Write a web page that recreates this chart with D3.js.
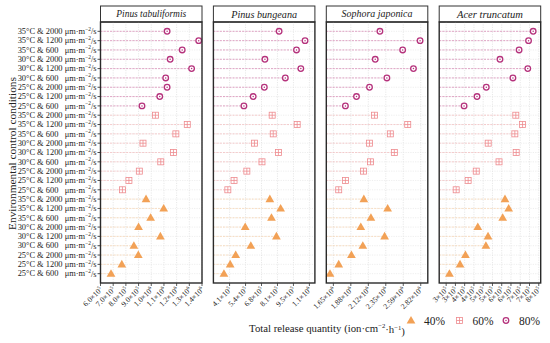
<!DOCTYPE html>
<html><head><meta charset="utf-8">
<script src="https://cdn.jsdelivr.net/npm/d3@7"></script>
<style>
html,body{margin:0;padding:0;background:#fff;}
svg{display:block;}
svg text{font-family:"Liberation Serif","Times New Roman","DejaVu Serif",serif;}
</style></head>
<body><svg id="chart" width="550" height="343" font-family="Liberation Serif, Times New Roman, serif"></svg>
<script>
// ---------------- data ----------------
const species = ["Pinus tabuliformis", "Pinus bungeana", "Sophora japonica", "Acer truncatum"];
const conditions = ["35°C & 2000", "35°C & 1200", "35°C & 600", "30°C & 2000", "30°C & 1200", "30°C & 600", "25°C & 2000", "25°C & 1200", "25°C & 600"];
const humidities = ["80%", "60%", "40%"];

const tabuliformis80 = [1.125e6, 1.374e6, 1.244e6, 1.149e6, 1.318e6, 1.114e6, 1.125e6, 1.067e6, 9.27e5];
const tabuliformis60 = [1.033e6, 1.284e6, 1.194e6, 9.35e5, 1.175e6, 1.075e6, 9.06e5, 8.24e5, 7.73e5];
const tabuliformis40 = [9.59e5, 1.098e6, 9.95e5, 9.0e5, 1.072e6, 8.63e5, 8.98e5, 7.68e5, 6.83e5];

const bungeana80 = [8.30e5, 1.051e6, 9.78e5, 7.09e5, 1.015e6, 8.83e5, 7.04e5, 6.09e5, 5.30e5];
const bungeana60 = [7.71e5, 9.84e5, 7.80e5, 6.20e5, 8.24e5, 6.84e5, 5.55e5, 4.46e5, 3.93e5];
const bungeana40 = [7.51e5, 8.43e5, 7.65e5, 5.41e5, 8.07e5, 5.89e5, 4.60e5, 4.13e5, 3.60e5];

const japonica80 = [2.271e6, 2.811e6, 2.577e6, 2.208e6, 2.722e6, 2.365e6, 2.131e6, 1.956e6, 1.807e6];
const japonica60 = [2.199e6, 2.645e6, 2.411e6, 2.131e6, 2.465e6, 2.145e6, 2.050e6, 1.807e6, 1.717e6];
const japonica40 = [2.055e6, 2.375e6, 2.150e6, 2.014e6, 2.334e6, 2.041e6, 1.888e6, 1.717e6, 1.600e6];

const truncatum80 = [7.39e5, 7.15e5, 6.66e5, 5.67e5, 7.11e5, 6.34e5, 4.96e5, 4.48e5, 3.81e5];
const truncatum60 = [6.49e5, 6.84e5, 6.44e5, 5.06e5, 6.51e5, 5.62e5, 4.44e5, 4.02e5, 3.40e5];
const truncatum40 = [5.93e5, 6.12e5, 5.81e5, 4.52e5, 5.05e5, 4.94e5, 3.88e5, 3.60e5, 3.05e5];

// x domains and ticks per panel
const domains = [[6.0e5, 1.4e6], [2.70e5, 1.135e6], [1.55e6, 2.915e6], [2.52e5, 7.78e5]];
const tickValues = [
  [6e5, 7e5, 8e5, 9e5, 1.0e6, 1.1e6, 1.2e6, 1.3e6, 1.4e6],
  [4.08e5, 5.44e5, 6.80e5, 8.16e5, 9.52e5, 1.088e6],
  [1.645e6, 1.880e6, 2.115e6, 2.350e6, 2.585e6, 2.820e6],
  [2.88e5, 3.36e5, 3.84e5, 4.32e5, 4.80e5, 5.28e5, 5.76e5, 6.24e5, 6.72e5, 7.20e5, 7.68e5]
];
const tickMantissas = [
  ["6.0", "7.0", "8.0", "9.0", "1.0", "1.1", "1.2", "1.3", "1.4"],
  ["4.1", "5.4", "6.8", "8.1", "9.5", "1.1"],
  ["1.65", "1.88", "2.12", "2.35", "2.59", "2.82"],
  ["3", "3", "4", "4", "5", "5", "6", "6", "7", "7", "8"]
];
const tickExponents = [
  ["5", "5", "5", "5", "6", "6", "6", "6", "6"],
  ["5", "5", "5", "5", "5", "6"],
  ["6", "6", "6", "6", "6", "6"],
  ["5", "5", "5", "5", "5", "5", "5", "5", "5", "5", "5"]
];

const values = [
  [tabuliformis80, tabuliformis60, tabuliformis40],
  [bungeana80, bungeana60, bungeana40],
  [japonica80, japonica60, japonica40],
  [truncatum80, truncatum60, truncatum40]
];

// ---------------- layout ----------------
const FONT = "Liberation Serif, Times New Roman, serif";
const svg = d3.select("#chart");
const plotTop = 22, plotBottom = 283, titleTop = 6;
const panelX0 = 100.5, panelStep = 112.9, panelW = 101.5;

const colors = {"80%": "#b5327c", "60%": "#ee8a8e", "40%": "#f2a156"};
const lineColors = {"80%": "#d98fb8", "60%": "#f4c0c2", "40%": "#f8d7b6"};

// scale a text's font-size so its rendered length matches a target width
function fit(sel, target) {
  const node = sel.node();
  const fs = parseFloat(sel.attr("font-size"));
  const len = node.getComputedTextLength();
  if (len > 0) {
    const nfs = fs * target / len;
    sel.attr("font-size", nfs);
    sel.selectAll("tspan[data-rel]").each(function () {
      const t = d3.select(this);
      t.attr("font-size", nfs * parseFloat(t.attr("data-rel")));
    });
  }
  return sel;
}

const rowKeys = [];
humidities.forEach(h => conditions.forEach(c => rowKeys.push(h + "|" + c)));
const y = d3.scalePoint().domain(rowKeys).range([plotTop, plotBottom]).padding(1);

// y-axis labels
const yl = svg.append("g");
let labelFs = 8.6;
{
  const probe = yl.append("text").attr("font-family", FONT).attr("font-size", 8.6);
  probe.append("tspan").text("35°C & 2000\u00a0μm·m");
  probe.append("tspan").attr("font-size", 5.6).attr("dy", "-0.6em").text("−2");
  probe.append("tspan").attr("dy", "0.4em").text("/s");
  const len = probe.node().getComputedTextLength();
  if (len > 0) labelFs = 8.6 * 79 / len;
  probe.remove();
}
rowKeys.forEach(k => {
  const cond = k.split("|")[1];
  const parts = cond.split(" & ");
  const num = parts[1];
  const pad = num.length === 3 ? "\u00a0\u00a0\u00a0" : "\u00a0";
  const t = yl.append("text").attr("x", 96.5).attr("y", y(k)).attr("dy", "0.33em")
    .attr("font-family", FONT)
    .attr("text-anchor", "end").attr("font-size", labelFs).attr("fill", "#222");
  t.append("tspan").text(parts[0] + " & " + num + pad + "μm·m");
  t.append("tspan").attr("font-size", labelFs * 0.65).attr("dy", "-0.6em").text("−2");
  t.append("tspan").attr("dy", "0.4em").text("/s");
  yl.append("line").attr("x1", 97.5).attr("x2", panelX0).attr("y1", y(k)).attr("y2", y(k))
    .attr("stroke", "#222").attr("stroke-width", 0.8);
});

fit(svg.append("text").attr("transform", "translate(16,153.5) rotate(-90)")
  .attr("font-family", FONT)
  .attr("text-anchor", "middle").attr("font-size", 12).attr("fill", "#222")
  .text("Environmental control conditions"), 153);

// panels
const titleWidths = [70, 66, 71, 66];
species.forEach((sp, i) => {
  const x0 = panelX0 + i * panelStep;
  const x = d3.scaleLinear().domain(domains[i]).range([x0, x0 + panelW]);
  const g = svg.append("g");

  // title box
  g.append("rect").attr("x", x0).attr("y", titleTop).attr("width", panelW).attr("height", plotTop - titleTop)
    .attr("fill", "#fff").attr("stroke", "#333").attr("stroke-width", 1);
  fit(g.append("text").attr("x", x0 + panelW / 2).attr("y", (titleTop + plotTop) / 2).attr("dy", "0.35em")
    .attr("font-family", FONT)
    .attr("text-anchor", "middle").attr("font-size", 10).attr("font-style", "italic").attr("fill", "#222").text(sp), titleWidths[i]);

  // grid
  tickValues[i].forEach(v => {
    g.append("line").attr("x1", x(v)).attr("x2", x(v)).attr("y1", plotTop).attr("y2", plotBottom)
      .attr("stroke", "#d8d8d8").attr("stroke-width", 0.6).attr("stroke-dasharray", "1.2,1.2");
  });
  rowKeys.forEach(k => {
    g.append("line").attr("x1", x0).attr("x2", x0 + panelW).attr("y1", y(k)).attr("y2", y(k))
      .attr("stroke", "#e2e2e2").attr("stroke-width", 0.6).attr("stroke-dasharray", "1.2,1.2");
  });

  // segments and markers
  humidities.forEach((h, hi) => {
    values[i][hi].forEach((v, ci) => {
      const k = h + "|" + conditions[ci];
      const cy = y(k), cx = x(v);
      g.append("line").attr("x1", x0).attr("x2", cx).attr("y1", cy).attr("y2", cy)
        .attr("stroke", lineColors[h]).attr("stroke-width", 0.8).attr("stroke-dasharray", "2,1.2");
      drawMarker(g, h, cx, cy);
    });
  });

  // border
  g.append("rect").attr("x", x0).attr("y", plotTop).attr("width", panelW).attr("height", plotBottom - plotTop)
    .attr("fill", "none").attr("stroke", "#2a2a2a").attr("stroke-width", 1.4);

  // x ticks + labels
  tickValues[i].forEach((v, ti) => {
    g.append("line").attr("x1", x(v)).attr("x2", x(v)).attr("y1", plotBottom).attr("y2", plotBottom + 3)
      .attr("stroke", "#333").attr("stroke-width", 0.8);
    const t = g.append("text").attr("transform", "translate(" + (x(v) + 2.5) + "," + (plotBottom + 7) + ") rotate(-45)")
      .attr("font-family", FONT)
      .attr("text-anchor", "end").attr("font-size", 7.6).attr("fill", "#222");
    t.append("tspan").text(tickMantissas[i][ti] + "×10");
    t.append("tspan").attr("font-size", 5).attr("dy", "-0.6em").text(tickExponents[i][ti]);
  });
});

function drawMarker(g, h, cx, cy) {
  const c = colors[h];
  if (h === "80%") {
    g.append("circle").attr("cx", cx).attr("cy", cy).attr("r", 2.8).attr("fill", "#fff")
      .attr("stroke", c).attr("stroke-width", 1.3);
    g.append("circle").attr("cx", cx).attr("cy", cy).attr("r", 0.75).attr("fill", c);
  } else if (h === "60%") {
    const s = 3;
    g.append("rect").attr("x", cx - s).attr("y", cy - s).attr("width", 2 * s).attr("height", 2 * s)
      .attr("fill", "#fff").attr("stroke", c).attr("stroke-width", 0.8);
    g.append("line").attr("x1", cx - s).attr("x2", cx + s).attr("y1", cy).attr("y2", cy).attr("stroke", c).attr("stroke-width", 0.8);
    g.append("line").attr("x1", cx).attr("x2", cx).attr("y1", cy - s).attr("y2", cy + s).attr("stroke", c).attr("stroke-width", 0.8);
  } else {
    g.append("path").attr("d", d3.symbol(d3.symbolTriangle, 33)()).attr("transform", "translate(" + cx + "," + (cy + 0.5) + ")")
      .attr("fill", c);
  }
}

// x-axis title
const xt = svg.append("text").attr("x", 327).attr("y", 332).attr("text-anchor", "middle")
  .attr("font-family", FONT).attr("font-size", 12).attr("fill", "#222");
xt.append("tspan").text("Total release quantity (ion·cm");
xt.append("tspan").attr("data-rel", 0.62).attr("font-size", 7.5).attr("dy", "-0.6em").text("−2");
xt.append("tspan").attr("dy", "0.45em").text("·h");
xt.append("tspan").attr("data-rel", 0.62).attr("font-size", 7.5).attr("dy", "-0.45em").text("−1");
xt.append("tspan").attr("dy", "0.45em").text(")");
fit(xt, 156);

// legend
const legendX = [411, 459.5, 506];
const lg = svg.append("g");
["40%", "60%", "80%"].forEach((h, i) => {
  drawMarker(lg, h, legendX[i], 320.5);
  fit(lg.append("text").attr("x", legendX[i] + 13).attr("y", 325).attr("font-family", FONT)
    .attr("font-size", 12).attr("fill", "#222").text(h), 21);
});
</script></body></html>
